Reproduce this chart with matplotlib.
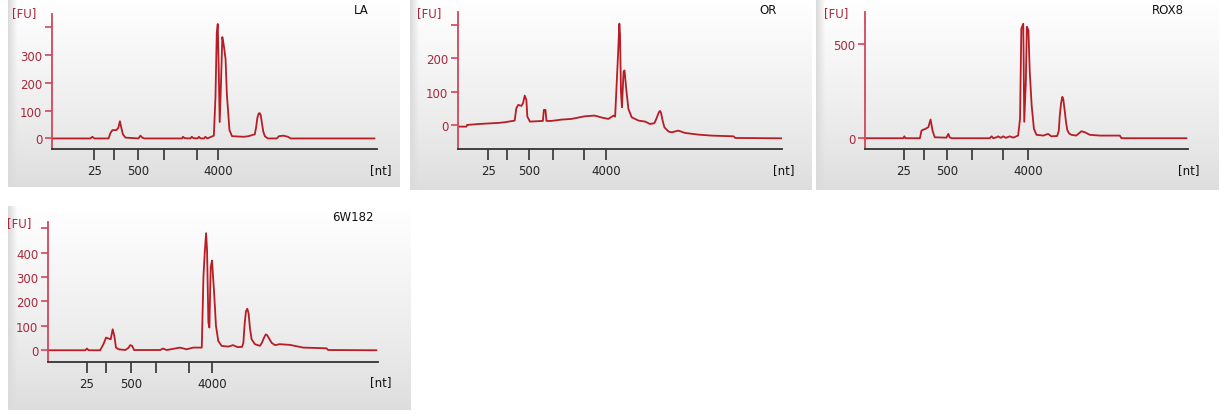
import numpy as np
from matplotlib import pyplot as plt

W, H = 1219, 414

# ladder sizes shown on the x axis (only some are labelled)
LADDER_NT = [25, 200, 500, 1000, 2000, 4000]
LADDER_LABELS = ['25', '', '500', '', '', '4000']

# migration time [s] of the ladder ticks, one row per sample
LA_LADDER_S = [25.5, 28.6, 32.2, 36.3, 41.3, 44.6]
OR_LADDER_S = [23.7, 26.6, 30.0, 33.7, 38.4, 41.9]
ROX8_LADDER_S = [25.0, 28.1, 31.7, 35.6, 40.4, 44.3]
W182_LADDER_S = [24.9, 27.8, 31.6, 35.4, 40.3, 43.9]

# electropherogram traces: time [s] and fluorescence [FU]
LA_TIME = [19.1, 24.9, 25.2, 25.5, 27.7, 28.0, 28.3, 28.9, 29.2, 29.45, 29.65,
           29.9, 30.3, 32.3, 32.6, 32.9, 33.2, 39.0, 39.15, 39.4, 40.3, 40.5,
           40.75, 41.4, 41.6, 41.85, 42.4, 42.6, 42.9, 43.9, 44.15, 44.35, 44.5,
           44.65, 44.8, 45.0, 45.2, 45.4, 45.7, 45.9, 46.1, 46.3, 46.7, 48.5,
           49.2, 50.2, 50.4, 50.6, 50.8, 50.95, 51.1, 51.3, 51.5, 51.75, 52.2,
           53.6, 53.9, 54.6, 55.3, 55.7, 68.6]
LA_FU = [0, 0, 6, 0, 0, 20, 30, 30, 38, 62, 40,
         15, 3, 0, 10, 3, 0, 0, 6, 1, 0, 6,
         1, 0, 6, 0, 0, 6, 0, 10, 150, 380, 412,
         250, 59, 200, 365, 340, 286, 160, 95, 30, 8, 6,
         8, 15, 40, 75, 90, 91, 85, 55, 25, 8, 0,
         0, 8, 10, 6, 0, 0]

OR_TIME = [19.1, 20.3, 20.4, 22.35, 25.2, 26.2, 27.75, 28.0, 28.3, 28.8, 29.05,
           29.3, 29.55, 29.7, 30.1, 32.1, 32.25, 32.5, 32.65, 33.4, 35.0, 36.5,
           38.6, 40.1, 41.2, 42.2, 43.0, 43.25, 43.55, 43.65, 43.9, 44.0, 44.15,
           44.3, 44.55, 44.7, 45.0, 45.3, 45.8, 46.85, 47.9, 48.6, 49.3, 49.6,
           49.8, 50.0, 50.2, 50.35, 50.55, 50.85, 51.5, 52.0, 53.0, 54.05, 56.1,
           58.2, 61.5, 61.8, 68.9]
OR_FU = [-5, -5, 0, 3, 6, 8, 13, 50, 60, 57, 66,
         88, 75, 25, 10, 12, 45, 45, 12, 12, 16, 18,
         26, 28, 22, 18, 28, 25, 150, 190, 303, 270, 100,
         53, 160, 163, 100, 48, 23, 13, 10, 3, 5, 18,
         28, 38, 42, 35, 15, -7, -20, -22, -17, -24, -29,
         -32, -34, -39, -40]

ROX8_TIME = [19.1, 24.9, 25.1, 25.25, 27.5, 27.75, 28.3, 28.8, 29.15, 29.45,
             29.8, 31.6, 31.9, 32.1, 32.4, 38.3, 38.6, 38.85, 39.35, 39.6,
             40.0, 40.4, 40.8, 41.4, 41.95, 42.7, 43.0, 43.2, 43.5, 43.65,
             43.9, 44.05, 44.3, 44.5, 44.8, 45.15, 45.55, 46.6, 47.35, 47.85,
             48.75, 49.0, 49.15, 49.35, 49.55, 49.7, 49.9, 50.1, 50.3, 50.6,
             50.95, 51.7, 52.5, 53.0, 53.8, 55.35, 58.45, 58.7, 68.75]
ROX8_FU = [0, 0, 10, 0, 0, 41, 49, 58, 99, 41,
           5, 3, 23, 5, 0, 0, 10, 0, 5, 10,
           2, 10, 2, 10, 3, 14, 102, 580, 606, 87,
           300, 590, 571, 352, 173, 49, 18, 14, 23, 10,
           12, 40, 120, 185, 219, 205, 150, 90, 45, 25,
           18, 14, 37, 32, 18, 14, 14, 0, 0]

W182_TIME = [19.1, 24.65, 24.9, 25.15, 26.9, 27.4, 27.8, 28.15, 28.5, 28.8,
             29.05, 29.3, 29.7, 30.7, 31.2, 31.45, 31.75, 32.05, 36.0, 36.4,
             37.0, 39.0, 40.0, 41.0, 42.3, 42.55, 42.75, 42.95, 43.1, 43.3,
             43.45, 43.65, 43.85, 44.15, 44.45, 44.8, 45.3, 46.3, 47.05, 47.7,
             48.4, 48.6, 48.8, 49.0, 49.2, 49.4, 49.6, 49.85, 50.35, 51.1,
             51.4, 51.7, 52.0, 52.2, 52.5, 52.9, 53.4, 54.1, 55.65, 57.65,
             61.2, 61.45, 68.75]
W182_FU = [0, 0, 7, 0, 0, 25, 52, 48, 45, 86,
           59, 11, 4, 1, 10, 21, 18, 1, 1, 7,
           1, 11, 4, 11, 11, 300, 400, 479, 410, 114,
           93, 340, 367, 244, 100, 38, 18, 15, 21, 13,
           14, 30, 110, 160, 170, 150, 90, 45, 25, 18,
           30, 50, 65, 62, 48, 30, 21, 25, 22, 11,
           8, 1, 0]

SAMPLES = ['LA', 'OR', 'ROX8', '6W182']

TRACE_COLOR = '#b81c24'
YAXIS_COLOR = '#d2465a'
YLABEL_COLOR = '#a8283a'
XAXIS_COLOR = '#333333'


def px_rect(left, top, width, height):
    # pixel box (origin top-left) -> figure fraction
    return [left / W, (H - top - height) / H, width / W, height / H]


def draw_background(fig, left, top, width, height):
    ax = fig.add_axes(px_rect(left, top, width, height), zorder=0)
    rows = np.linspace(1.0, 0.0, height)[:, None]
    cols = np.linspace(0.0, 1.0, width)[None, :]
    shade = 0.865 + 0.135 * rows ** 0.8
    strip = np.clip(cols * width / 9.0, 0, 1)
    shade = shade * strip + 0.86 * (1 - strip)
    img = np.dstack([shade, shade, shade * 1.003])
    ax.imshow(np.clip(img, 0, 1), aspect='auto', interpolation='bilinear')
    ax.set_axis_off()


def draw_trace(fig, box, time, fu, ladder, ylim, yticks, ylabels):
    ax = fig.add_axes(px_rect(*box), zorder=2)
    ax.patch.set_visible(False)
    ax.plot(time, fu, color=TRACE_COLOR, linewidth=1.3)
    ax.set_xlim(19, 69)
    ax.set_ylim(*ylim)

    ax.spines['top'].set_visible(False)
    ax.spines['right'].set_visible(False)
    ax.spines['left'].set_color(YAXIS_COLOR)
    ax.spines['left'].set_linewidth(1.3)
    ax.spines['bottom'].set_color(XAXIS_COLOR)
    ax.spines['bottom'].set_linewidth(1.3)

    ax.set_yticks(yticks)
    ax.set_yticklabels(ylabels)
    ax.tick_params(axis='y', direction='out', length=5, width=1.2,
                   color=YAXIS_COLOR, labelcolor=YLABEL_COLOR,
                   labelsize=8.5, pad=2)

    ax.set_xticks(ladder)
    ax.set_xticklabels(LADDER_LABELS)
    ax.tick_params(axis='x', direction='out', length=8, width=1.2,
                   color=XAXIS_COLOR, labelcolor='#222222',
                   labelsize=8.5, pad=3)
    return ax


def put_text(fig, x, y, text, color='#111111', ha='left'):
    fig.text(x / W, 1 - y / H, text, color=color, ha=ha, va='center',
             fontsize=8.5)


def main():
    plt.rcParams['font.family'] = ['DejaVu Sans']
    fig = plt.figure(figsize=(W / 100, H / 100), dpi=100)
    fig.patch.set_facecolor('white')

    # panel backgrounds
    draw_background(fig, 8, 0, 392, 188)
    draw_background(fig, 410, 0, 401, 191)
    draw_background(fig, 816, 0, 403, 191)
    draw_background(fig, 8, 207, 403, 204)

    draw_trace(fig, (52, 15, 325, 135), LA_TIME, LA_FU, LA_LADDER_S,
               (-38, 448), [0, 100, 200, 300, 400],
               ['0', '100', '200', '300', ''])
    draw_trace(fig, (458, 13, 324, 137), OR_TIME, OR_FU, OR_LADDER_S,
               (-72, 338), [0, 100, 200, 300],
               ['0', '100', '200', ''])
    draw_trace(fig, (865, 13, 323, 137), ROX8_TIME, ROX8_FU, ROX8_LADDER_S,
               (-57, 668), [0, 500], ['0', '500'])
    draw_trace(fig, (48, 223, 330, 140), W182_TIME, W182_FU, W182_LADDER_S,
               (-48, 525), [0, 100, 200, 300, 400, 500],
               ['0', '100', '200', '300', '400', ''])

    # unit labels and sample names
    for x, y in [(12, 14), (417, 14), (824, 14), (7, 224)]:
        put_text(fig, x, y, '[FU]', color=YLABEL_COLOR)
    for x, y in [(370, 171), (773, 171), (1178, 171), (370, 383)]:
        put_text(fig, x, y, '[nt]')
    for x, y, name in [(369, 11, SAMPLES[0]), (777, 11, SAMPLES[1]),
                       (1184, 11, SAMPLES[2]), (374, 218, SAMPLES[3])]:
        put_text(fig, x, y, name, ha='right')

    fig.savefig('out.png', dpi=100)


main()
